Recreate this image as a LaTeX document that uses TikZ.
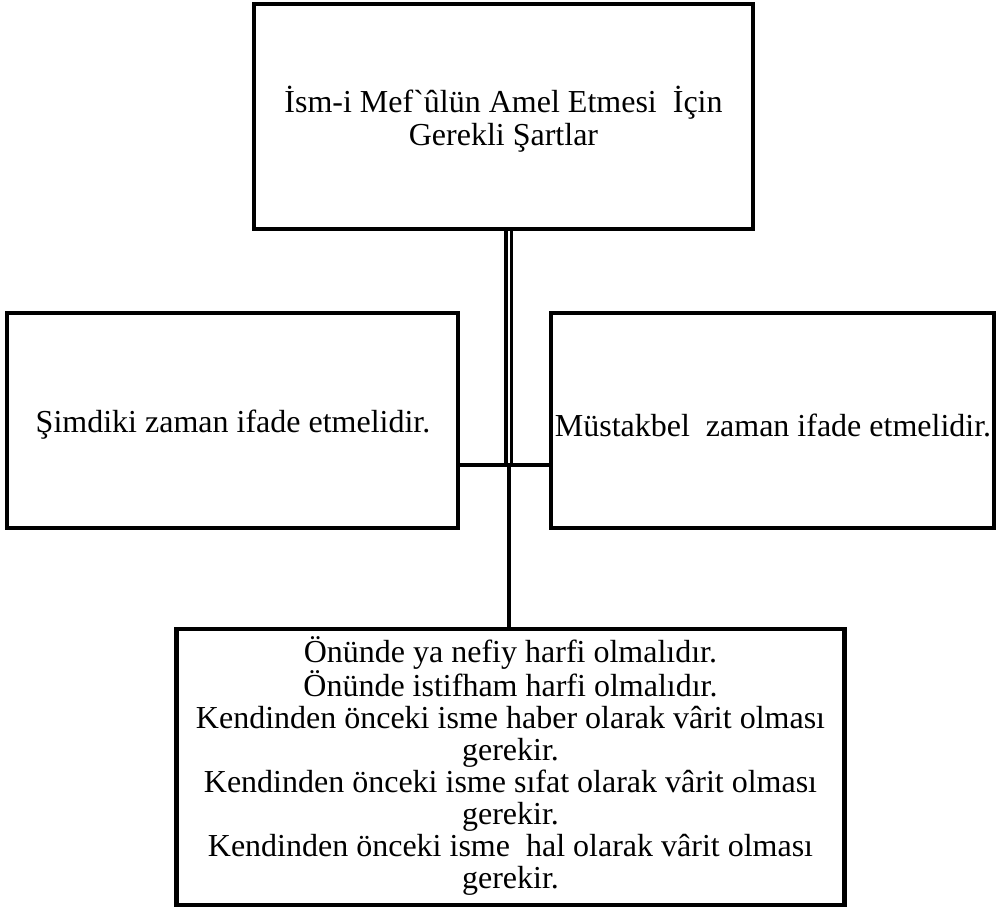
\documentclass[tikz,border=0pt]{standalone}
\usepackage{fontspec}
\setmainfont{Liberation Serif}[Ligatures=TeXOff]
\usetikzlibrary{calc}
\begin{document}
\begin{tikzpicture}[x=1pt,y=-1pt,
  box/.style={draw=black,line width=4.8pt,rectangle,inner sep=0pt},
  label/.style={inner sep=0pt,align=center,font=\fontsize{32}{32.5}\selectfont},
  link/.style={draw=black,line width=4pt}]
\useasboundingbox (0,0) rectangle (998,911);
% title box
\node[box,minimum width=499pt,minimum height=225pt] (top) at (503.5,116.5) {};
\node[label] (toptxt) at (503.5,119)
  {İsm-i Mef`ûlün Amel Etmesi \ İçin\\Gerekli Şartlar};
% side boxes
\node[box,minimum width=451pt,minimum height=215pt] (left) at (232.5,420.5) {};
\node[label] (lefttxt) at (233,425) {Şimdiki zaman ifade etmelidir.};
\node[box,minimum width=443pt,minimum height=215pt] (right) at (772.5,420.5) {};
\node[label] (righttxt) at (773,425) {Müstakbel \ zaman ifade etmelidir.};
% conditions box
\node[box,minimum width=668pt,minimum height=276pt] (bottom) at (510.5,767) {};
\node[label,font=\fontsize{32}{32}\selectfont] (bottomtxt) at (510.5,766)
  {Önünde ya nefiy harfi olmalıdır.\\
   Önünde istifham harfi olmalıdır.\\
   Kendinden önceki isme haber olarak vârit olması\\
   gerekir.\\
   Kendinden önceki isme sıfat olarak vârit olması\\
   gerekir.\\
   Kendinden önceki isme \ hal olarak vârit olması\\
   gerekir.};
% connectors
\coordinate (hub) at (508.5,465);
\draw[double=white,double distance=2pt,line width=3.8pt] (top.south -| hub) -- (hub);
\draw[link] (left.east |- hub) -- (right.west |- hub);
\draw[link] (hub) -- (bottom.north -| hub);
\end{tikzpicture}
\end{document}
